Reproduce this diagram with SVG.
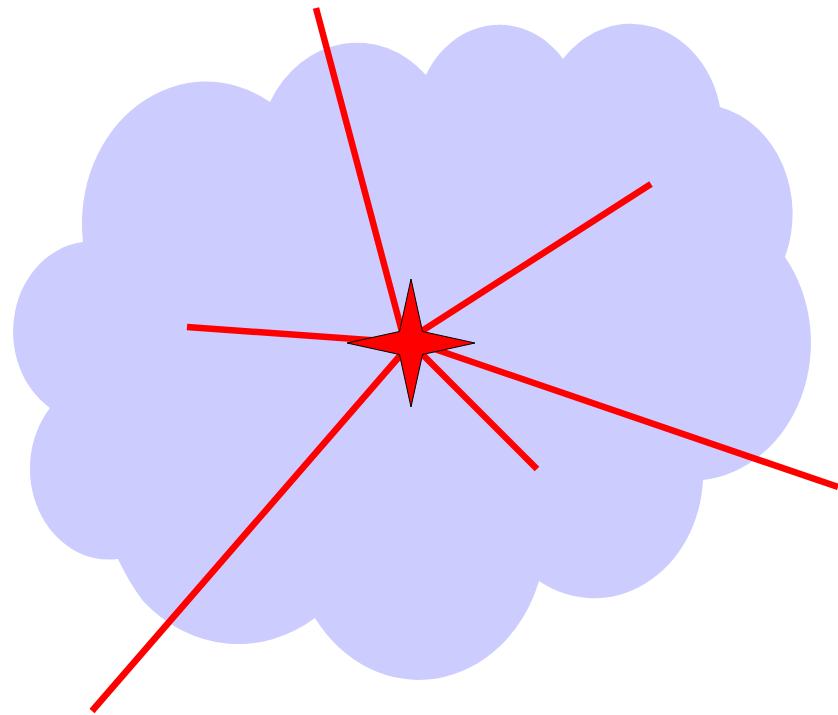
<svg xmlns="http://www.w3.org/2000/svg" width="838" height="715" viewBox="0 0 838 715">
  <style>
    .cloud { fill: #ccccff; stroke: none; }
    .ray { stroke: #ff0000; stroke-width: 6.5; stroke-linecap: butt; fill: none; }
    .star { fill: #ff0000; stroke: #000000; stroke-width: 1; stroke-linejoin: miter; }
  </style>
  <rect width="838" height="715" fill="#ffffff"/>
  <g id="cloud">
    <path class="cloud" d="M83,242
      A124,142 0 0 1 270,102
      A99,114 0 0 1 426,75
      A83,95 0 0 1 563,59
      A91,105 0 0 1 720,107
      A95,110 0 0 1 785,257
      A120,138 0 0 1 703,480
      A109,125 0 0 1 539,581
      A127,146 0 0 1 315,618
      A140,160 0 0 1 143,601
      A200,230 0 0 1 118,559
      A79,91 0 0 1 50,408
      A78,90 0 0 1 83,242 Z"/>
  </g>
  <g id="connectors">
    <line class="ray" x1="405" y1="343" x2="316" y2="8"/>
    <line class="ray" x1="411" y1="343" x2="187" y2="327"/>
    <line class="ray" x1="411" y1="338" x2="651" y2="184"/>
    <line class="ray" x1="411" y1="341" x2="838" y2="487"/>
    <line class="ray" x1="411" y1="343" x2="537" y2="469"/>
    <line class="ray" x1="411" y1="343" x2="92" y2="711"/>
  </g>
  <g id="star">
    <path class="star" d="M411,279 L422.5,331.5 L475,343 L422.5,354.5 L411,407 L399.5,354.5 L347,343 L399.5,331.5 Z"/>
  </g>
</svg>
